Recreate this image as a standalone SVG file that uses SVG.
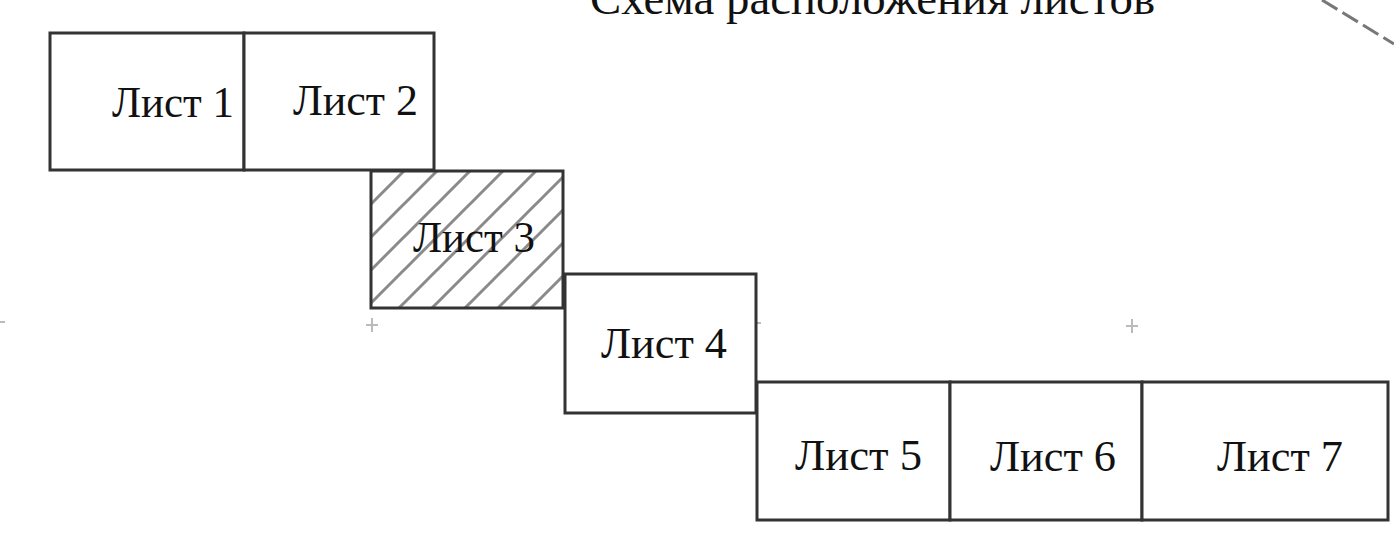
<svg xmlns="http://www.w3.org/2000/svg" width="1394" height="540" viewBox="0 0 1394 540">
<defs>
<pattern id="hatch" patternUnits="userSpaceOnUse" width="33" height="33" patternTransform="translate(371,171)">
<line x1="-5" y1="38" x2="38" y2="-5" stroke="#8a8a8a" stroke-width="3"/>
<line x1="-20" y1="20" x2="20" y2="-20" stroke="#8a8a8a" stroke-width="3"/>
<line x1="13" y1="53" x2="53" y2="13" stroke="#8a8a8a" stroke-width="3"/>
</pattern>
<style>
.sheet{fill:#fff;stroke:#333;stroke-width:3}
.lbl{font-family:"Liberation Serif","Times New Roman",serif;font-size:44px;fill:#111}
.mark{stroke:#bbb;stroke-width:2}
</style>
</defs>
<rect width="1394" height="540" fill="#fff"/>
<text class="lbl" x="590" y="14" textLength="565" lengthAdjust="spacingAndGlyphs" style="font-size:46px">Схема расположения листов</text>
<g id="connectors">
<line x1="1322" y1="0" x2="1394" y2="44" stroke="#777" stroke-width="3" stroke-dasharray="18 6"/>
<line class="mark" x1="366" y1="325" x2="378" y2="325"/>
<line class="mark" x1="372" y1="318" x2="372" y2="332"/>
<line class="mark" x1="749" y1="323" x2="761" y2="323"/>
<line class="mark" x1="1126" y1="326" x2="1138" y2="326"/>
<line class="mark" x1="1132" y1="319" x2="1132" y2="333"/>
<line class="mark" x1="0" y1="322" x2="5" y2="322"/>
</g>
<g id="sheet1"><rect class="sheet" x="50" y="33" width="194" height="137"/><text class="lbl" x="112" y="117" textLength="122" lengthAdjust="spacingAndGlyphs">Лист 1</text></g>
<g id="sheet2"><rect class="sheet" x="244" y="33" width="190" height="137"/><text class="lbl" x="293" y="115" textLength="125" lengthAdjust="spacingAndGlyphs">Лист 2</text></g>
<g id="sheet3"><rect class="sheet" x="371" y="171" width="192" height="137" fill="url(#hatch)" style="fill:url(#hatch)"/><text class="lbl" x="413" y="252" textLength="122" lengthAdjust="spacingAndGlyphs">Лист 3</text></g>
<g id="sheet4"><rect class="sheet" x="565" y="274" width="191" height="139"/><text class="lbl" x="601" y="358" textLength="126" lengthAdjust="spacingAndGlyphs">Лист 4</text></g>
<g id="sheet5"><rect class="sheet" x="757" y="382" width="193" height="138"/><text class="lbl" x="795" y="470" textLength="127" lengthAdjust="spacingAndGlyphs">Лист 5</text></g>
<g id="sheet6"><rect class="sheet" x="950" y="382" width="192" height="138"/><text class="lbl" x="990" y="471" textLength="126" lengthAdjust="spacingAndGlyphs">Лист 6</text></g>
<g id="sheet7"><rect class="sheet" x="1142" y="382" width="246" height="138"/><text class="lbl" x="1217" y="471" textLength="126" lengthAdjust="spacingAndGlyphs">Лист 7</text></g>
</svg>
